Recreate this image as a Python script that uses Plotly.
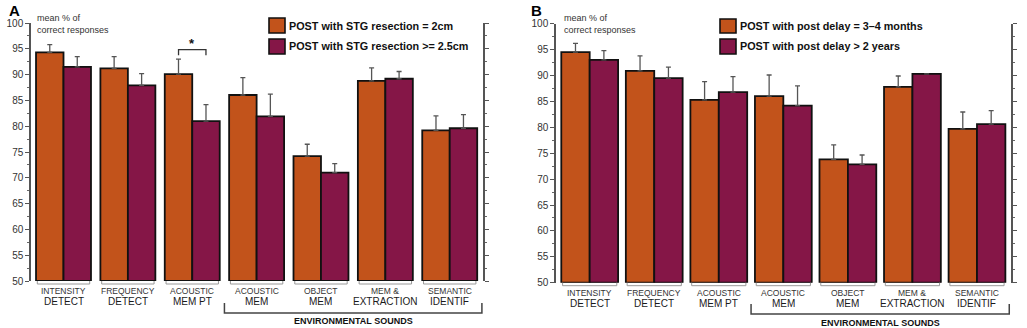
import plotly.graph_objects as go

# ---------------- data ----------------
cat_top = ["INTENSITY", "FREQUENCY", "ACOUSTIC", "ACOUSTIC", "OBJECT", "MEM &", "SEMANTIC"]
cat_bottom = ["DETECT", "DETECT", "MEM PT", "MEM", "MEM", "EXTRACTION", "IDENTIF"]
positions = [0, 1, 2, 3, 4, 5, 6]

a_small = [94.3, 91.2, 90.1, 86.05, 74.2, 88.8, 79.2]
a_small_err = [1.5, 2.3, 2.9, 3.35, 2.3, 2.5, 2.8]
a_large = [91.5, 87.9, 81.0, 81.9, 71.0, 89.2, 79.6]
a_large_err = [2.0, 2.3, 3.2, 4.3, 1.75, 1.4, 2.65]

b_short = [94.5, 90.9, 85.3, 86.0, 73.8, 87.8, 79.7]
b_short_err = [1.7, 2.9, 3.5, 4.1, 2.8, 2.1, 3.25]
b_long = [93.0, 89.5, 86.8, 84.2, 72.85, 90.3, 80.6]
b_long_err = [1.8, 2.1, 3.0, 3.8, 1.8, 0.0, 2.6]

y_ticks = [50, 55, 60, 65, 70, 75, 80, 85, 90, 95, 100]
names_a = ["POST with STG resection = 2cm", "POST with STG resection >= 2.5cm"]
names_b = ["POST with post delay = 3\u20134 months", "POST with post delay > 2 years"]

# ---------------- styles ----------------
W, H = 1027, 328
ORANGE = "#C2531B"
PURPLE = "#851647"
BASE = 50


def px_x(p):
    return p / W


def px_y(p):
    return 1 - p / H


def bar_pair(vals1, err1, vals2, err2, names, w, xa, ya):
    out = []
    for vals, err, col, off, nm in [(vals1, err1, ORANGE, -w, names[0]),
                                    (vals2, err2, PURPLE, 0, names[1])]:
        out.append(go.Bar(
            x=positions, y=[v - BASE for v in vals], base=BASE,
            width=w, offset=off, name=nm, showlegend=False,
            marker=dict(color=col, line=dict(color="#111", width=1.8)),
            error_y=dict(type="data", symmetric=False, array=err,
                         arrayminus=[0] * len(err), color="#555",
                         thickness=1.3, width=2.5),
            xaxis=xa, yaxis=ya, cliponaxis=False,
            customdata=vals,
            hovertemplate=nm + "<br>%{customdata}<extra></extra>",
        ))
    return out


fig = go.Figure()
for t in bar_pair(a_small, a_small_err, a_large, a_large_err, names_a, 0.427, "x", "y"):
    fig.add_trace(t)
for t in bar_pair(b_short, b_short_err, b_long, b_long_err, names_b, 0.44, "x2", "y2"):
    fig.add_trace(t)


def yax(domain, anchor):
    return dict(domain=domain, range=[50, 100], tickvals=y_ticks, anchor=anchor,
                ticks="outside", ticklen=4, tickwidth=1.2, tickcolor="#555",
                showline=True, linecolor="#555", linewidth=1.5, mirror="ticks",
                showgrid=False, zeroline=False, automargin=False,
                tickfont=dict(family="Arial", size=10, color="#333"),
                minor=dict(dtick=2.5, tick0=0, ticks="outside", ticklen=2.5,
                           tickcolor="#666", tickwidth=1))


def xax(domain, rng, anchor):
    return dict(domain=domain, range=rng, anchor=anchor, showline=False,
                showticklabels=False, ticks="", showgrid=False, zeroline=False,
                automargin=False)


panels = [
    dict(xa="x", ya="y", xd=(31, 483), xr=[-0.505, 6.517], yd=(23, 281), w=0.427,
         l1=290.7, l2=301.7, env=(303, 313, 321), letter="A", lx=14.5,
         mx=35, sw=(269, 285), rows=((18, 33), (39, 54)), names=names_a),
    dict(xa="x2", ya="y2", xd=(556, 1011), xr=[-0.522, 6.527], yd=(23.7, 282.7), w=0.44,
         l1=292.7, l2=303.3, env=(304, 314, 322.5), letter="B", lx=536,
         mx=562, sw=(720, 736), rows=((19, 33), (39, 54)), names=names_b),
]

layout = dict(width=W, height=H,
              margin=dict(l=0, r=0, t=0, b=0, pad=0, autoexpand=False),
              plot_bgcolor="white", paper_bgcolor="white", barmode="overlay",
              showlegend=False, font=dict(family="Arial", color="#222"))

annotations = []
shapes = []
for i, p in enumerate(panels):
    sfx = "" if i == 0 else "2"
    layout["xaxis" + sfx] = xax([px_x(p["xd"][0]), px_x(p["xd"][1])], p["xr"], p["ya"])
    layout["yaxis" + sfx] = yax([px_y(p["yd"][1]), px_y(p["yd"][0])], p["xa"])
    w = p["w"]
    for k, pos in enumerate(positions):
        annotations.append(dict(x=pos, y=px_y(p["l1"]), xref=p["xa"], yref="paper",
                                text=cat_top[k], showarrow=False, yanchor="middle",
                                font=dict(family="Arial", size=8.5, color="#333")))
        annotations.append(dict(x=pos, y=px_y(p["l2"]), xref=p["xa"], yref="paper",
                                text=cat_bottom[k], showarrow=False, yanchor="middle",
                                font=dict(family="Arial", size=10, color="#1a1a1a")))
        y0 = px_y(p["yd"][1])
        y1 = px_y(p["yd"][1] + 3)
        shapes.append(dict(type="path", xref=p["xa"], yref="paper",
                           path=f"M {pos - w + 0.02},{y0} L {pos - w + 0.02},{y1} "
                                f"L {pos + w - 0.02},{y1} L {pos + w - 0.02},{y0}",
                           line=dict(color="#999", width=1)))
    e0, e1, et = p["env"]
    shapes.append(dict(type="path", xref=p["xa"], yref="paper",
                       path=f"M 2.5,{px_y(e0)} L 2.5,{px_y(e1)} L 6.5,{px_y(e1)} L 6.5,{px_y(e0)}",
                       line=dict(color="#444", width=1.5)))
    annotations.append(dict(x=4.5, y=px_y(et), xref=p["xa"], yref="paper",
                            text="<b>ENVIRONMENTAL SOUNDS</b>", showarrow=False,
                            yanchor="middle",
                            font=dict(family="Arial", size=9, color="#111")))
    annotations.append(dict(x=px_x(p["lx"]), y=px_y(10), xref="paper", yref="paper",
                            text="<b>" + p["letter"] + "</b>", showarrow=False,
                            xanchor="center", yanchor="middle",
                            font=dict(family="Arial", size=15, color="#000")))
    annotations.append(dict(x=px_x(p["mx"]), y=px_y(11), xref="paper", yref="paper",
                            text="mean % of<br>correct responses", showarrow=False,
                            xanchor="left", yanchor="top", align="left",
                            font=dict(family="Arial", size=9, color="#333")))
    # legend (swatch + label)
    for (r0, r1), col, nm in zip(p["rows"], [ORANGE, PURPLE], p["names"]):
        shapes.append(dict(type="rect", xref="paper", yref="paper",
                           x0=px_x(p["sw"][0]), x1=px_x(p["sw"][1]),
                           y0=px_y(r1), y1=px_y(r0), fillcolor=col,
                           line=dict(color="#111", width=1.6)))
        annotations.append(dict(x=px_x(p["sw"][1] + 2), y=px_y((r0 + r1) / 2),
                                xref="paper", yref="paper", text="<b>" + nm + "</b>",
                                showarrow=False, xanchor="left", yanchor="middle",
                                font=dict(family="Arial", size=10.8, color="#111")))

# significance bracket (panel A, ACOUSTIC MEM PT)
shapes.append(dict(type="path", xref="x", yref="y",
                   path="M 1.787,93.75 L 1.787,94.85 L 2.213,94.85 L 2.213,93.75",
                   line=dict(color="#333", width=1.3)))
annotations.append(dict(x=2.0, y=96.1, xref="x", yref="y", text="<b>*</b>",
                        showarrow=False, yanchor="middle",
                        font=dict(family="Arial", size=13, color="#111")))

layout["annotations"] = annotations
layout["shapes"] = shapes
fig.update_layout(**layout)
fig.write_html("out.html", config={"displayModeBar": False},
               post_script="document.body.style.margin='0';document.body.style.overflow='hidden';")
